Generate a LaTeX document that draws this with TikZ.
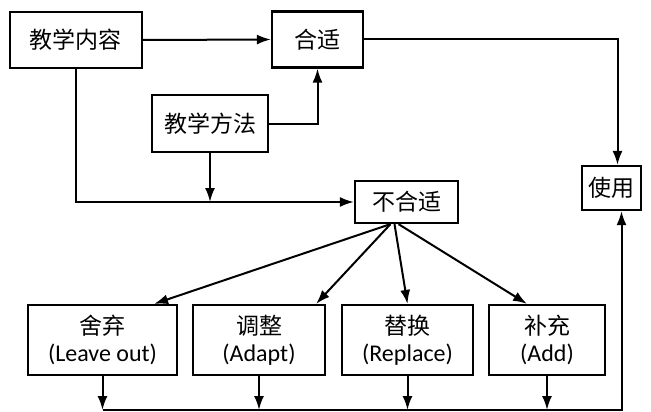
\documentclass[tikz,border=0pt]{standalone}
\usepackage{fontspec}
\setmainfont{Carlito}
\newfontfamily\cjk{Noto Sans CJK SC}
\usetikzlibrary{arrows.meta}

\begin{document}
\begin{tikzpicture}[x=1pt,y=-1pt,
        box/.style={draw,line width=2.2pt,inner sep=0pt,align=center,font=\fontsize{23}{27}\selectfont},
        zh/.style={font=\fontsize{23}{27}\selectfont\cjk},
        link/.style={line width=2pt,-{Latex[length=14pt,width=10pt]}}]
    \useasboundingbox (0,0) rectangle (651,412);

    % obere Reihe
    \node[box,zh,minimum width=132,minimum height=56] (inhalt) at (76,40) {教学内容};
    \node[box,zh,minimum width=91,minimum height=56] (passt) at (317.5,39.5) {合适};
    \node[box,zh,minimum width=116,minimum height=57] (methode) at (210,123.5) {教学方法};
    \node[box,zh,minimum width=103,minimum height=42] (unpassend) at (406.5,202) {不合适};
    \node[box,zh,minimum width=59,minimum height=44] (nutzen) at (611.5,188) {使用};

    % untere Reihe
    \node[box,minimum width=149,minimum height=70] (weglassen) at (102.5,340) {{\cjk 舍弃}\\\fontsize{24}{27}\selectfont(Leave out)};
    \node[box,minimum width=132,minimum height=70] (anpassen) at (259,340) {{\cjk 调整}\\\fontsize{24}{27}\selectfont(Adapt)};
    \node[box,minimum width=131,minimum height=70] (ersetzen) at (407.5,340) {{\cjk 替换}\\\fontsize{24}{27}\selectfont(Replace)};
    \node[box,minimum width=116,minimum height=70] (ergaenzen) at (547,340) {{\cjk 补充}\\\fontsize{24}{27}\selectfont(Add)};
    \coordinate (unten) at (0,410);

    % Pfeile oben
    \draw[link] (inhalt.east) -- (passt.west);
    \draw[link] (methode.east) -| (passt.south);
    \draw[link] (passt.east) -| ([xshift=6]nutzen.north);
    \draw[link] (inhalt.south) |- (unpassend.west);
    \draw[link] (methode.south) -- (methode.south |- unpassend.west);

    % Pfeile nach unten
    \draw[link] ([xshift=-16]unpassend.south) -- ([xshift=-24]weglassen.north east);
    \draw[link] ([xshift=-16]unpassend.south) -- ([xshift=-10]anpassen.north east);
    \draw[link] ([xshift=-12]unpassend.south) -- (ersetzen.north);
    \draw[link] ([xshift=-8]unpassend.south) -- ([xshift=-20]ergaenzen.north);

    % Rueckfuehrung
    \draw[link] (weglassen.south) -- (weglassen.south |- unten);
    \draw[link] (anpassen.south) -- (anpassen.south |- unten);
    \draw[link] (ersetzen.south) -- (ersetzen.south |- unten);
    \draw[link] (ergaenzen.south) -- (ergaenzen.south |- unten);
    \draw[link] (weglassen.south |- unten) -| ([xshift=10]nutzen.south);
\end{tikzpicture}
\end{document}
